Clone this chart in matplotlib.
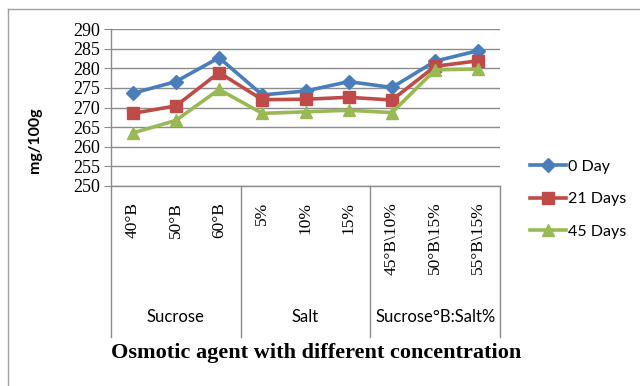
import matplotlib
matplotlib.use("Agg")
import matplotlib.pyplot as plt
from matplotlib.lines import Line2D

categories = ["40°B", "50°B", "60°B", "5%", "10%", "15%",
              "45°B\\10%", "50°B\\15%", "55°B\\15%"]
groups = ["Sucrose", "Salt", "Sucrose°B:Salt%"]
group_sizes = [3, 3, 3]

day0 = [273.6, 276.6, 282.7, 273.2, 274.2, 276.6, 275.1, 281.8, 284.5]
day21 = [268.5, 270.4, 278.9, 272.0, 272.1, 272.6, 271.9, 280.5, 281.9]
day45 = [263.5, 266.7, 274.6, 268.5, 268.9, 269.3, 268.7, 279.6, 279.8]

series = [("0 Day", day0, "#4A7EBB", "D", 7),
          ("21 Days", day21, "#BE4B48", "s", 8.5),
          ("45 Days", day45, "#98B954", "^", 9)]

yticks = list(range(250, 291, 5))

serif = "Liberation Serif"
sans = "Lato"
grid_col = "#8C8C8C"

fig = plt.figure(figsize=(6.4, 3.86), dpi=100)
ax = fig.add_axes([111 / 640, 1 - 186 / 386, 389 / 640, 157 / 386])

x = list(range(len(categories)))
for name, vals, col, mk, ms in series:
    ax.plot(x, vals, color=col, lw=2.6, marker=mk, markersize=ms,
            markeredgecolor=col, label=name, zorder=3)

ax.set_xlim(-0.5, len(categories) - 0.5)
ax.set_ylim(250, 290)
ax.set_yticks(yticks)
ax.set_yticklabels([str(v) for v in yticks], fontfamily=serif, fontsize=13)
ax.yaxis.grid(True, color=grid_col, lw=1)
ax.set_axisbelow(True)
ax.tick_params(axis="y", length=5, color=grid_col, pad=3)
ax.set_xticks([])
for s in ["top", "right"]:
    ax.spines[s].set_visible(False)
for s in ["left", "bottom"]:
    ax.spines[s].set_color(grid_col)
    ax.spines[s].set_linewidth(1)

# multi-level category axis below the plot
tr = ax.get_xaxis_transform()
bottom = -0.962
bounds = [-0.5]
for n in group_sizes:
    bounds.append(bounds[-1] + n)
for b in bounds:
    ax.add_line(Line2D([b, b], [0, bottom], transform=tr, color=grid_col,
                       lw=1, clip_on=False))
for xi, lab in zip(x, categories):
    ax.text(xi, -0.1, lab, transform=tr, rotation=90, ha="center", va="top",
            fontfamily=serif, fontsize=12.5)
for i, g in enumerate(groups):
    ax.text((bounds[i] + bounds[i + 1]) / 2, -0.834, g, transform=tr,
            ha="center", va="center", fontfamily=sans, fontsize=12)

fig.text(35 / 640, 1 - 140 / 386, "mg/100g", rotation=90, ha="center",
         va="center", fontfamily=sans, fontweight="bold", fontsize=11.5)
fig.text(316 / 640, 1 - 353 / 386, "Osmotic agent with different concentration",
         ha="center", va="center", fontfamily=serif, fontweight="bold",
         fontsize=16)

# legend
handles, labels = ax.get_legend_handles_labels()
fig.legend(handles, labels, loc="center left",
           bbox_to_anchor=(516 / 640, 1 - 199 / 386), frameon=False,
           prop={"family": sans, "size": 11.5}, handlelength=2.2,
           handletextpad=0.15, labelspacing=1.15)

# chart frame
fig.add_artist(Line2D([8 / 640, 8 / 640], [0, 1 - 9 / 386],
                      transform=fig.transFigure, color="#A0A0A0", lw=1))
fig.add_artist(Line2D([8 / 640, 1], [1 - 9 / 386, 1 - 9 / 386],
                      transform=fig.transFigure, color="#A0A0A0", lw=1))

fig.savefig("out.png", dpi=100)
